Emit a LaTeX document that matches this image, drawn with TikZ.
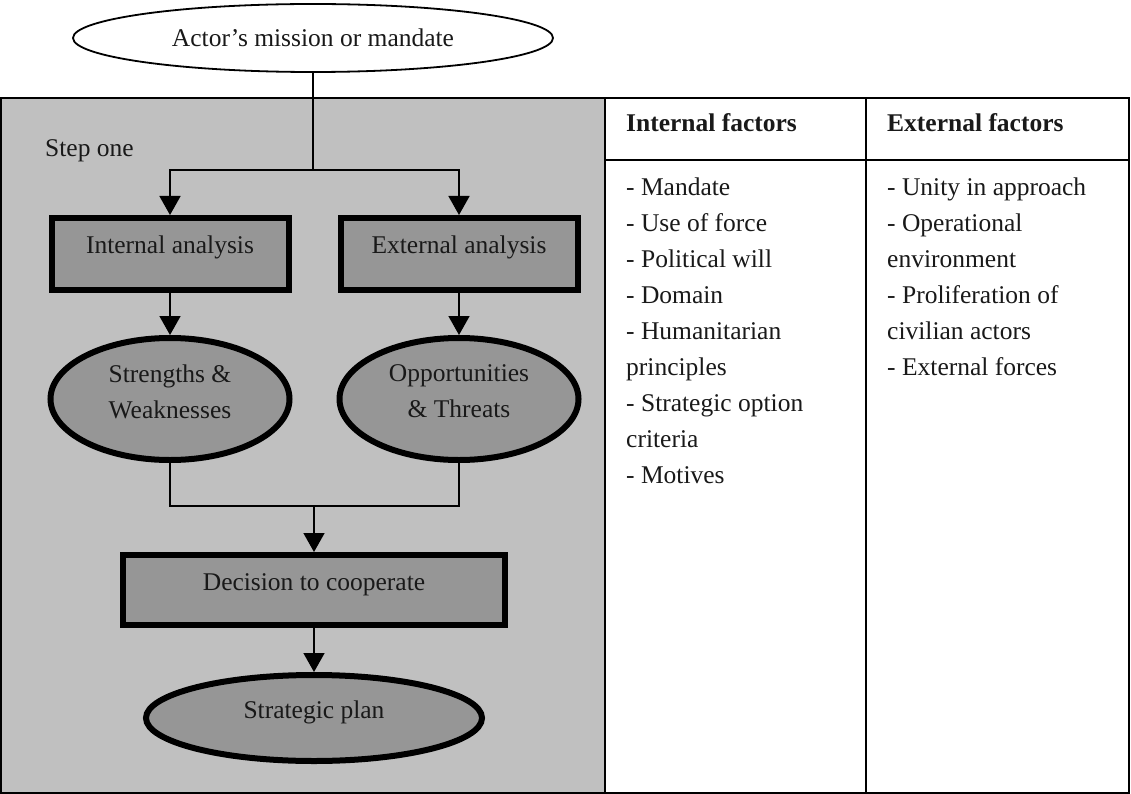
\documentclass[tikz,border=0pt]{standalone}
\usepackage{fontspec}
\setmainfont{Liberation Serif}
\usetikzlibrary{shapes.geometric,arrows.meta}

\definecolor{panelgray}{RGB}{192,192,192}
\definecolor{nodegray}{RGB}{150,150,150}
\definecolor{inkgray}{RGB}{25,25,25}

\tikzset{
  txt/.style={font=\fontsize{25.5}{36}\selectfont, text=inkgray, inner sep=0pt},
  stepbox/.style={txt, rectangle, draw=black, fill=nodegray, line width=6pt,
    text height=18pt, text depth=18pt},
  stepoval/.style={txt, ellipse, draw=black, fill=nodegray, line width=6pt},
  flow/.style={draw=black, line width=1.6pt},
  flowarrow/.style={flow, -{Triangle[width=21pt,length=19pt]}},
  rule/.style={draw=black, line width=1.8pt}
}

\begin{document}
\begin{tikzpicture}[x=1pt,y=-1pt]
  \useasboundingbox (0,0) rectangle (1131,794);

  % shaded panel holding the first step
  \draw[rule, fill=panelgray] (1,98) rectangle (605,793);

  % factor table
  \draw[rule, fill=white] (605,98) rectangle (1129,793);
  \draw[rule] (605,160) -- (1129,160);
  \draw[rule] (866,98) -- (866,793);

  % flow nodes
  \node[txt, ellipse, draw=black, line width=1.8pt, fill=white,
        minimum width=480pt, minimum height=68pt] (mission) at (313,38)
        {Actor’s mission or mandate};
  \node[txt, anchor=base west] (stepone) at (45,157) {Step one};

  \node[stepbox, minimum width=237pt, minimum height=72pt] (ia) at (170,254) {Internal analysis};
  \node[stepbox, minimum width=237pt, minimum height=72pt] (ea) at (459,254) {External analysis};

  \node[stepoval, align=center, text depth=15pt, minimum width=239pt, minimum height=122pt]
        (sw) at (170,399) {Strengths \&\\Weaknesses};
  \node[stepoval, align=center, text depth=15pt, minimum width=239pt, minimum height=122pt]
        (ot) at (459,399) {Opportunities\\\& Threats};

  \node[stepbox, minimum width=382pt, minimum height=70pt] (dec) at (314,590) {Decision to cooperate};
  \node[stepoval, minimum width=336pt, minimum height=86pt, text height=18pt, text depth=18pt]
        (plan) at (314,718) {Strategic plan};

  % connectors
  \coordinate (split) at (313,170);
  \coordinate (merge) at (314,506);
  \draw[flow] (mission.south) -- (split);
  \draw[flowarrow] (split) -| (ia.north);
  \draw[flowarrow] (split) -| (ea.north);
  \draw[flowarrow] (ia.south) -- (sw.north);
  \draw[flowarrow] (ea.south) -- (ot.north);
  \draw[flow] (sw.south) |- (merge) -| (ot.south);
  \draw[flowarrow] (merge) -- (dec.north);
  \draw[flowarrow] (dec.south) -- (plan.north);

  % table contents
  \node[txt, font=\fontsize{25.5}{36}\selectfont\bfseries, anchor=base west] (inthead) at (626,132) {Internal factors};
  \node[txt, font=\fontsize{25.5}{36}\selectfont\bfseries, anchor=base west] (exthead) at (887,132) {External factors};

  \node[txt, align=left, anchor=north west] (intlist) at (626,178)
    {- Mandate\\- Use of force\\- Political will\\- Domain\\- Humanitarian\\principles\\- Strategic option\\criteria\\- Motives};
  \node[txt, align=left, anchor=north west] (extlist) at (887,178)
    {- Unity in approach\\- Operational\\environment\\- Proliferation of\\civilian actors\\- External forces};
\end{tikzpicture}
\end{document}
